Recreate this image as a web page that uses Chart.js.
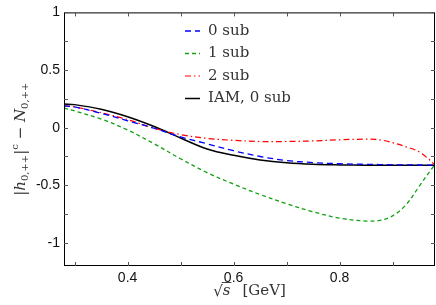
<!DOCTYPE html>
<html>
<head>
<meta charset="utf-8">
<script src="https://cdn.jsdelivr.net/npm/chart.js@4"></script>
<style>
  html, body { margin: 0; padding: 0; background: #fff; }
  #wrap { width: 436px; height: 305px; }
</style>
</head>
<body>
<div id="wrap"><canvas id="chart" width="436" height="305"></canvas></div>
<script>
// sqrt(s) in GeV
const sqrtS = [0.28, 0.30, 0.35, 0.40, 0.45, 0.50, 0.55, 0.60, 0.65, 0.70, 0.75, 0.80, 0.85, 0.875, 0.90, 0.925, 0.95, 0.97, 0.98];

const sub0 = [0.19, 0.18, 0.125, 0.06, -0.005, -0.08, -0.14, -0.20, -0.25, -0.285, -0.303, -0.313, -0.318, -0.32, -0.322, -0.323, -0.324, -0.325, -0.325];
const sub1 = [0.17, 0.145, 0.075, -0.02, -0.14, -0.27, -0.39, -0.49, -0.58, -0.66, -0.73, -0.785, -0.81, -0.805, -0.765, -0.67, -0.51, -0.38, -0.32];
const sub2 = [0.19, 0.18, 0.13, 0.07, -0.005, -0.06, -0.093, -0.11, -0.12, -0.12, -0.115, -0.105, -0.10, -0.105, -0.13, -0.165, -0.21, -0.28, -0.325];
const iam0 = [0.205, 0.20, 0.16, 0.095, 0.01, -0.09, -0.185, -0.24, -0.28, -0.305, -0.318, -0.323, -0.325, -0.325, -0.325, -0.325, -0.325, -0.325, -0.325];

const seriesNames = ['0 sub', '1 sub', '2 sub', 'IAM, 0 sub'];

const xTicks = [0.3, 0.4, 0.5, 0.6, 0.7, 0.8, 0.9];
const xLabels = [0.4, 0.6, 0.8];
const yTicks = [-1, -0.75, -0.5, -0.25, 0, 0.25, 0.5, 0.75, 1];
const yLabels = [-1, -0.5, 0, 0.5, 1];

const pts = ys => sqrtS.map((x, i) => ({x: x, y: ys[i]}));

const styles = [
  {color: '#0000ff', dash: [6, 4], width: 1.3},
  {color: '#13a013', dash: [4, 3], width: 1.3},
  {color: '#ff0000', dash: [6, 3, 1.5, 3], width: 1.2},
  {color: '#000000', dash: [], width: 1.5},
];

const serif = '"DejaVu Serif", serif';

// box, inside ticks, axis titles and legend
const framePlugin = {
  id: 'frame',
  afterDraw(chart) {
    const ctx = chart.ctx;
    const a = chart.chartArea;
    const xs = chart.scales.x, ys = chart.scales.y;
    ctx.save();
    ctx.strokeStyle = '#000';
    ctx.lineWidth = 1;
    ctx.setLineDash([]);
    ctx.strokeRect(a.left + 0.5, a.top + 0.5, a.right - a.left - 1, a.bottom - a.top - 1);

    ctx.strokeStyle = '#555';
    ctx.beginPath();
    xTicks.forEach(v => {
      const px = Math.round(xs.getPixelForValue(v)) + 0.5;
      ctx.moveTo(px, a.bottom); ctx.lineTo(px, a.bottom - 4);
      ctx.moveTo(px, a.top); ctx.lineTo(px, a.top + 4);
    });
    yTicks.forEach(v => {
      const py = Math.round(ys.getPixelForValue(v)) + 0.5;
      ctx.moveTo(a.left, py); ctx.lineTo(a.left + 4, py);
      ctx.moveTo(a.right, py); ctx.lineTo(a.right - 4, py);
    });
    ctx.stroke();

    // legend
    const lx = 185, ly = 31, step = 22.5;
    seriesNames.forEach((name, i) => {
      const s = styles[i];
      const y = ly + i * step;
      ctx.strokeStyle = s.color;
      ctx.lineWidth = s.width;
      ctx.setLineDash(s.dash);
      ctx.beginPath();
      ctx.moveTo(lx, y); ctx.lineTo(lx + 15, y);
      ctx.stroke();
      ctx.setLineDash([]);
      ctx.fillStyle = '#333';
      ctx.font = '15px ' + serif;
      ctx.textBaseline = 'middle';
      ctx.textAlign = 'left';
      ctx.fillText(name, lx + 23, y);
    });

    // x title: sqrt(s) [GeV]
    ctx.fillStyle = '#333';
    ctx.textBaseline = 'alphabetic';
    const cx = (a.left + a.right) / 2;
    const by = 295;
    const rad = '\u221A';
    ctx.font = '15px ' + serif;
    const wRad = ctx.measureText(rad).width;
    ctx.font = 'italic 15px ' + serif;
    const wS = ctx.measureText('s').width;
    ctx.font = '15px ' + serif;
    const gev = '[GeV]';
    const wG = ctx.measureText(gev).width;
    const total = wRad + wS + 12 + wG;
    let x0 = cx - total / 2;
    ctx.font = '15px ' + serif;
    ctx.fillText(rad, x0, by + 1);
    ctx.strokeStyle = '#333';
    ctx.lineWidth = 0.9;
    ctx.beginPath();
    ctx.moveTo(x0 + wRad - 1, by - 12.5); ctx.lineTo(x0 + wRad + wS + 1, by - 12.5);
    ctx.stroke();
    ctx.font = 'italic 15px ' + serif;
    ctx.fillText('s', x0 + wRad, by);
    ctx.font = '15px ' + serif;
    ctx.fillText(gev, x0 + wRad + wS + 12, by);

    // y title: |h_{0,++}|^c - N_{0,++}
    const parts = [
      {t: '|', f: '15px ' + serif, dy: 0},
      {t: 'h', f: 'italic 15px ' + serif, dy: 0},
      {t: '0,++', f: '10px ' + serif, dy: 3},
      {t: '|', f: '15px ' + serif, dy: 0},
      {t: 'c', f: '10px ' + serif, dy: -7},
      {t: ' \u2212 ', f: '15px ' + serif, dy: 0},
      {t: 'N', f: 'italic 15px ' + serif, dy: 0},
      {t: '0,++', f: '10px ' + serif, dy: 3},
    ];
    let tw = 0;
    parts.forEach(p => { ctx.font = p.f; p.w = ctx.measureText(p.t).width; tw += p.w; });
    ctx.translate(20, (a.top + a.bottom) / 2);
    ctx.rotate(-Math.PI / 2);
    let px = -tw / 2;
    parts.forEach(p => {
      ctx.font = p.f;
      ctx.fillText(p.t, px, 5 + p.dy);
      px += p.w;
    });
    ctx.restore();
  }
};

const datasets = [sub0, sub1, sub2, iam0].map((ys, i) => ({
  label: seriesNames[i],
  data: pts(ys),
  borderColor: styles[i].color,
  borderWidth: styles[i].width,
  borderDash: styles[i].dash,
  pointRadius: 0,
  fill: false,
  tension: 0.35,
}));

new Chart(document.getElementById('chart'), {
  type: 'line',
  data: { datasets: datasets },
  options: {
    responsive: false,
    animation: false,
    layout: { padding: { top: 6, right: 1, left: 0, bottom: 0 } },
    plugins: { legend: { display: false }, tooltip: { enabled: false } },
    scales: {
      x: {
        type: 'linear',
        min: 0.28,
        max: 0.98,
        afterFit: s => { s.height = 39; },
        afterBuildTicks: s => { s.ticks = xLabels.map(v => ({value: v})); },
        grid: { display: false, drawTicks: false },
        border: { display: false },
        ticks: {
          padding: 4,
          color: '#111',
          font: { family: '"Liberation Sans", Arial, sans-serif', size: 14 },
          callback: v => String(v),
        },
      },
      y: {
        min: -1.2,
        max: 1,
        afterFit: s => { s.width = 64; },
        afterBuildTicks: s => { s.ticks = yLabels.map(v => ({value: v})); },
        grid: { display: false, drawTicks: false },
        border: { display: false },
        ticks: {
          padding: 4,
          color: '#111',
          font: { family: '"Liberation Sans", Arial, sans-serif', size: 14 },
          callback: v => String(v),
        },
      },
    },
  },
  plugins: [framePlugin],
});
</script>
</body>
</html>
